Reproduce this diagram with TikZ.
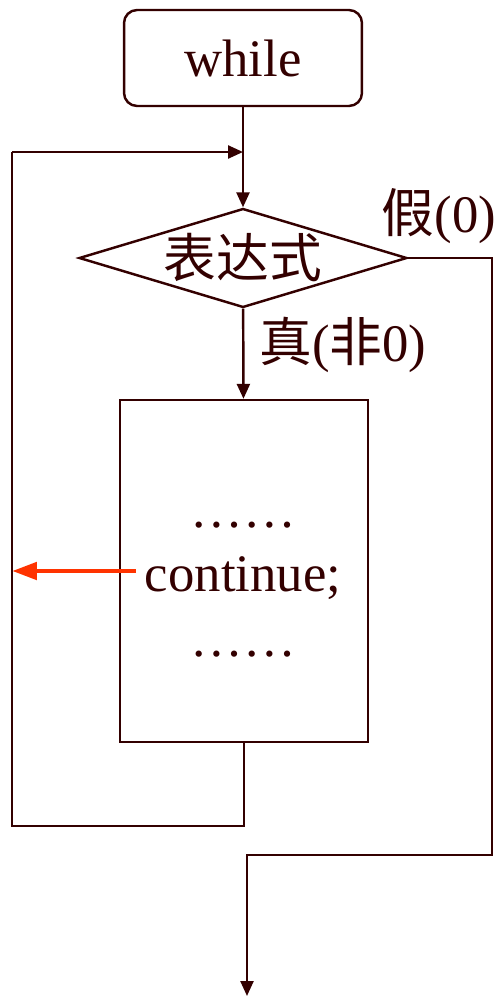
\documentclass[tikz,border=0pt]{standalone}
\usepackage{fontspec}
\setmainfont{Liberation Serif}
\newfontfamily\cjk{Noto Sans CJK SC}
\usetikzlibrary{arrows.meta, positioning, shapes.geometric}
\definecolor{maroon}{HTML}{330000}
\definecolor{jumpred}{HTML}{FF3300}

\begin{document}
\begin{tikzpicture}[x=0.02cm, y=-0.02cm,
    every node/.style={font=\fontsize{30}{36}\selectfont, text=maroon},
    line/.style={draw=maroon, line width=1.4pt},
    arr/.style={line, -{Triangle[length=0.3cm, width=0.26cm]}},
    startbox/.style={line, rounded corners=0.26cm, minimum width=4.76cm, minimum height=1.92cm},
    test/.style={line, diamond, aspect=3.3, inner sep=0pt, minimum width=6.56cm, minimum height=1.98cm},
    body/.style={line, minimum width=4.96cm, minimum height=6.84cm},
    jump/.style={draw=jumpred, line width=2.8pt, -{Triangle[length=0.5cm, width=0.34cm]}},
  ]
  \useasboundingbox (0,0) rectangle (499,998);

  \node[startbox] (start) at (243,58) {while};
  \node[test] (cond) at (243,258) {\cjk 表达式};
  \node[body] (loop) at (244,571) {};

  \node[anchor=base] (dotsA) at (243,527) {……};
  \node[anchor=base] (cont) at (243,591) {continue;};
  \node[anchor=base] (dotsB) at (243,656) {……};

  \node (yes) at (343,345) {{\cjk 真}({\cjk 非}0)};
  \node (no) at (439,216) {{\cjk 假}(0)};

  % loop back
  \coordinate (backtop) at (12,152);
  \coordinate (backbot) at (12,826);
  \draw[line] (loop.south) |- (backbot) -- (backtop);
  \draw[arr] (backtop) -- (backtop -| start.south);

  \draw[arr] (start) -- (cond);
  \draw[arr] (cond) -- (loop);

  % exit
  \coordinate (turn) at (492,855);
  \coordinate (out) at (247,996);
  \draw[arr] (cond.east) -| (turn) -| (out);

  \draw[jump] ([xshift=-0.06cm]cont.west |- loop.west) -- (loop.west -| backtop);
\end{tikzpicture}
\end{document}
